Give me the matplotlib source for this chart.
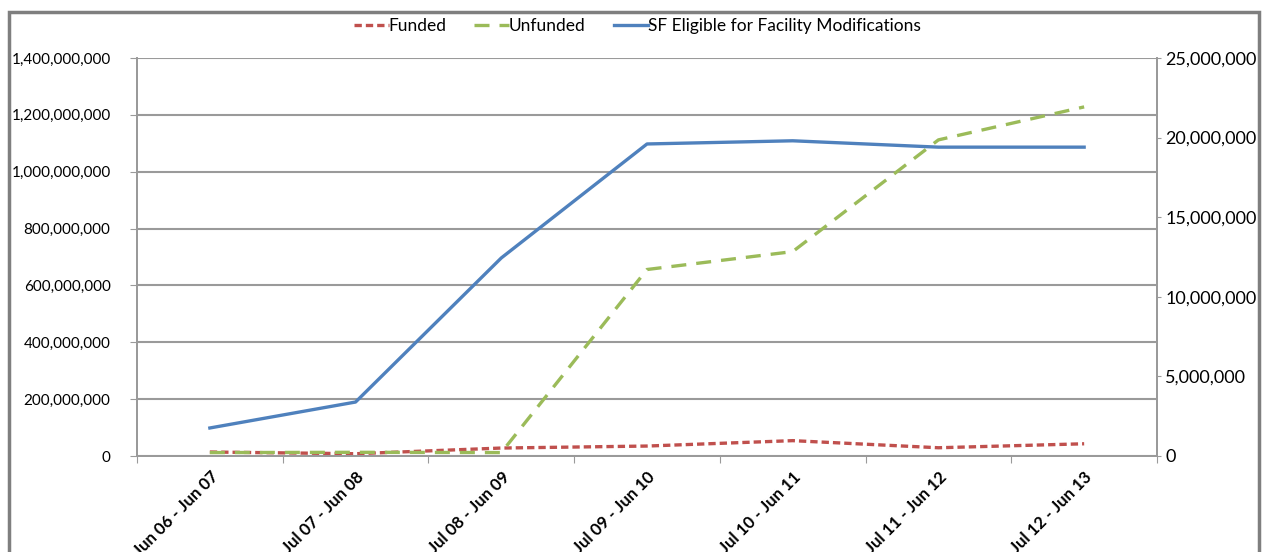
import matplotlib
matplotlib.use("Agg")
import matplotlib.pyplot as plt
from matplotlib.patches import Rectangle
from matplotlib.ticker import FuncFormatter, FixedLocator, MultipleLocator

periods = ["Jun 06 - Jun 07", "Jul 07 - Jun 08", "Jul 08 - Jun 09", "Jul 09 - Jun 10",
           "Jul 10 - Jun 11", "Jul 11 - Jun 12", "Jul 12 - Jun 13"]
funded = [14e6, 8e6, 28e6, 35e6, 54e6, 29e6, 43e6]
unfunded = [12e6, 13e6, 12e6, 656e6, 719e6, 1112e6, 1228e6]
sf_eligible = [1.76e6, 3.39e6, 12.44e6, 19.6e6, 19.8e6, 19.4e6, 19.4e6]

RED = "#C0504D"
GREEN = "#9BBB59"
BLUE = "#4F81BD"
GRID = "#9a9a9a"

plt.rcParams["font.family"] = ["Lato", "DejaVu Sans"]

fig = plt.figure(figsize=(12.65, 5.52), dpi=100)
ax = fig.add_axes([137 / 1265, 1 - 456 / 552, 1020 / 1265, 398 / 552])
ax2 = ax.twinx()

x = range(len(periods))
l1, = ax.plot(x, funded, color=RED, lw=2.4, dashes=(2.2, 1.2), label="Funded")
l2, = ax.plot(x, unfunded, color=GREEN, lw=2.4, dashes=(4.5, 3.0), label="Unfunded")
l3, = ax2.plot(x, sf_eligible, color=BLUE, lw=2.4, label="SF Eligible for Facility Modifications")

ax.set_xlim(-0.5, len(periods) - 0.5)
ax.set_ylim(0, 1.4e9)
ax2.set_ylim(0, 25e6)
ax.yaxis.set_major_locator(MultipleLocator(2e8))
ax2.yaxis.set_major_locator(MultipleLocator(5e6))
fmt = FuncFormatter(lambda v, p: f"{v:,.0f}")
ax.yaxis.set_major_formatter(fmt)
ax2.yaxis.set_major_formatter(fmt)
ax.grid(axis="y", color=GRID, lw=1.5)
ax.set_axisbelow(True)

ax.xaxis.set_major_locator(FixedLocator([i - 0.5 for i in range(len(periods) + 1)]))
ax.xaxis.set_minor_locator(FixedLocator(list(x)))
ax.set_xticklabels([])
ax.set_xticklabels(periods, minor=True, rotation=45, ha="right", rotation_mode="anchor",
                   fontweight="bold", fontsize=12)
ax.tick_params(axis="x", which="minor", length=0, pad=9)
ax.tick_params(axis="x", which="major", length=5, color=GRID, direction="out")
ax.tick_params(axis="y", length=5, color=GRID, labelsize=11, pad=14)
ax2.tick_params(axis="y", length=3, color=GRID, labelsize=13, pad=3)

for a in (ax, ax2):
    for side in ("left", "right", "bottom"):
        a.spines[side].set_color(GRID)
        a.spines[side].set_linewidth(1.3)
    a.spines["top"].set_visible(False)

fig.legend(handles=[l1, l2, l3], loc="center", bbox_to_anchor=(0.504, 1 - 26 / 552),
           ncol=3, frameon=False, fontsize=12.5, handlelength=2.0, handletextpad=0.0,
           columnspacing=1.6)

fig.patches.append(Rectangle((9 / 1265, -0.1), 1250 / 1265, 1.1 - 12 / 552,
                             transform=fig.transFigure, fill=False,
                             edgecolor="#7f7f7f", lw=2.5, zorder=10))

fig.savefig("out.png", dpi=100)
